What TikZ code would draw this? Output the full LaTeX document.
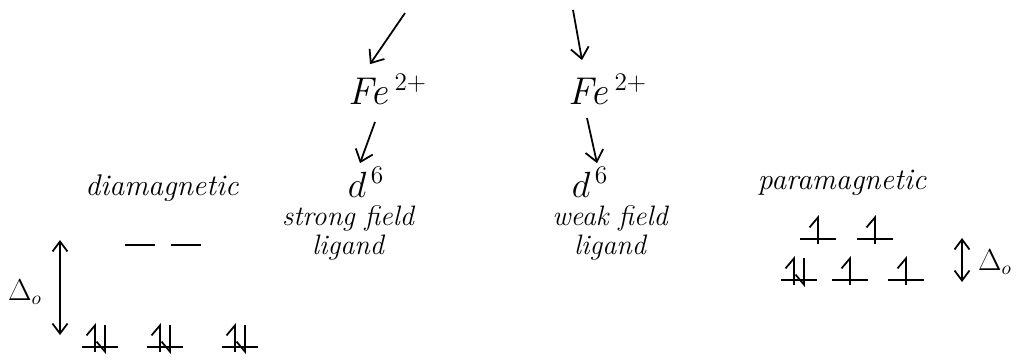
\documentclass[tikz,border=0pt]{standalone}
\usetikzlibrary{arrows.meta,calc}
\begin{document}
\begin{tikzpicture}[x=0.02cm,y=-0.02cm,
  lbl/.style={font=\fontsize{16}{19}\selectfont\itshape, inner sep=0pt, align=center},
  big/.style={lbl, font=\fontsize{22}{24}\selectfont\itshape},
  flow/.style={-{Straight Barb[length=2.2mm,width=3.6mm]}, line width=1pt},
  gap/.style={{Straight Barb[length=2mm,width=3mm]}-{Straight Barb[length=2mm,width=3mm]}, line width=1pt},
  level/.style={line width=1.1pt},
  spinup/.style={line width=1pt,-{Straight Barb[harpoon,length=2mm,width=3.4mm]}},
  spindown/.style={line width=1pt,-{Straight Barb[harpoon,swap,length=2mm,width=3.4mm]}},
  eempty/.pic={\draw[level] (-15,0) -- (15,0);},
  eup/.pic={\draw[level] (-18,0) -- (18,0); \draw[spinup] (0,5) -- (0,-24);},
  epair/.pic={\draw[level] (-18,0) -- (18,0); \draw[spinup] (-5,5) -- (-5,-24); \draw[spindown] (5,-22) -- (5,7);}
]
\useasboundingbox (0,0) rectangle (1017,360);

% top coordinates of incoming arrows
\coordinate (topL) at (405,13);
\coordinate (topR) at (573,10);

% left branch
\node[big, anchor=base] (feL) at (388,104) {Fe\,$^{2+}$};
\node[big, anchor=base] (dL) at (366,197) {$d^{\,6}$};
\node[lbl] (strong) at (348,233) {strong field\\[-2pt]ligand};
% right branch
\node[big, anchor=base] (feR) at (608,104) {Fe\,$^{2+}$};
\node[big, anchor=base] (dR) at (590,197) {$d^{\,6}$};
\node[lbl] (weak) at (610,233) {weak field\\[-2pt]ligand};

\draw[flow] (topL) -- ($(feL.north)+(-18,-10)$);
\draw[flow] ($(feL.base)+(-13,18)$) -- ($(dL.north)+(-6,-4)$);
\draw[flow] (topR) -- ($(feR.north)+(-26,-14)$);
\draw[flow] ($(feR.base)+(-21,14)$) -- ($(dR.north)+(7,-4)$);

% diamagnetic side
\node[lbl] (dia) at (162,188) {\fontsize{17}{20}\selectfont diamagnetic};
\pic at (140,245) {eempty};
\pic at (186,245) {eempty};
\pic at (100,347) {epair};
\pic at (165,347) {epair};
\pic at (240,347) {epair};
\coordinate (gL1) at (60,240);
\coordinate (gL2) at (60,335);
\draw[gap] (gL1) -- (gL2);
\node[lbl] (doL) at (25,292) {$\Delta_{o}$};

% paramagnetic side
\node[lbl] (para) at (842,183) {\fontsize{17}{20}\selectfont paramagnetic};
\pic at (818,239) {eup};
\pic at (875,239) {eup};
\pic at (799,280) {epair};
\pic at (850,280) {eup};
\pic at (906,280) {eup};
\coordinate (gR1) at (962,238);
\coordinate (gR2) at (962,282);
\draw[gap] (gR1) -- (gR2);
\node[lbl] (doR) at (995,262) {$\Delta_{o}$};
\end{tikzpicture}
\end{document}
